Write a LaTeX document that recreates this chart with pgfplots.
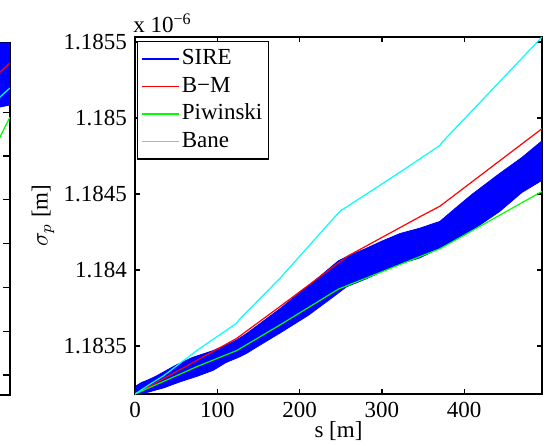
\documentclass[border=0pt]{standalone}
\usepackage{fontspec}
\setmainfont{Liberation Serif}
\usepackage{pgfplots}
\pgfplotsset{compat=1.18}
\definecolor{mblue}{RGB}{0,0,255}
\definecolor{mred}{RGB}{255,0,0}
\definecolor{mgreen}{RGB}{0,255,0}
\definecolor{mcyan}{RGB}{0,255,255}
\begin{document}
\fontsize{11.5}{13}\selectfont
\begin{tikzpicture}
% fragment of the neighbouring subplot on the left
\begin{axis}[at={(5pt,25pt)}, anchor=south east, width=105pt, height=176pt, scale only axis,
  xmin=-200, xmax=10, ymin=50, ymax=402,
  xtick=\empty, ytick={70,113.8,157.6,201.4,245.2,289,332.8,376.6}, yticklabels={},
  tick align=inside, tick pos=both, major tick length=3.5pt,
  axis line style={line width=0.7pt}, every tick/.style={black, line width=0.6pt}]
\addplot[fill=mblue, draw=mblue] coordinates {(-30,402) (10,402) (10,340) (-30,332)};
\addplot[mred, line width=0.6pt] coordinates {(-40,337) (0,373) (10,382)};
\addplot[mcyan, line width=0.6pt] coordinates {(-40,312) (0,348) (10,357)};
\addplot[mgreen, line width=0.6pt] coordinates {(-30,248) (0,308) (10,328)};
\end{axis}
% main axis
\begin{axis}[name=main, at={(67.5pt,25.5pt)}, anchor=south west, width=203.5pt, height=178.5pt, scale only axis,
  xmin=0, xmax=494.5, ymin=18.42, ymax=253.3,
  xtick={0,100,200,300,400},
  ytick={50,100,150,200,250}, yticklabels={1.1835,1.184,1.1845,1.185,1.1855},
  /pgf/number format/assume math mode=true,
  tick label style={font=\fontsize{11.5}{13}\selectfont},
  tick align=inside, tick pos=both, major tick length=2.5pt,
  axis line style={line width=0.7pt}, every tick/.style={black, line width=0.6pt},
  xlabel={s [m]}, ylabel={$\sigma_p$ [m]},
  xlabel style={at={(axis description cs:0.5,-0.104)}, anchor=center},
  ylabel style={at={(axis description cs:-0.226,0.5)}, anchor=center},
  legend image code/.code={\draw[#1] (0pt,0pt) -- (18.5pt,0pt);},
  legend cell align=left,
  legend style={at={(0.005,0.989)}, anchor=north west, draw=black, line width=0.6pt, fill=white,
    inner xsep=2pt, inner ysep=2.5pt, row sep=1.25pt,
    nodes={inner sep=1pt, text height=8pt, text depth=2.5pt},
    font=\fontsize{11.5}{13}\selectfont}]
% SIRE band
\addplot[forget plot, fill=mblue, draw=mblue, line width=0.4pt] coordinates {
 (0,18.4) (2,24) (8,26) (15,27.5) (25,30) (35,33) (50,37.5) (70,42.5) (95,47) (110,50.5) (123.5,54)
 (135,58) (150,64) (176,74.5) (200,85) (225,96) (247,106) (260,109.5) (280,114) (300,119)
 (322,124) (346,127.5) (370.5,132) (390,141) (410,150) (443,163.5) (470,174) (494.5,185)
 (494.5,159) (470,151) (443,138.5) (420,130) (400,123) (370.5,114.5) (346,108) (322,104)
 (300,99) (280,94) (257,89) (240,82) (210,70) (176,58.5) (150,50) (135,45) (127.6,43)
 (110,39) (95,34) (75,30) (55,26.5) (35,22.5) (15,19.5) (5,18.4)};
\addlegendimage{legend image code/.code={\draw[mblue,line width=0.6pt] (0pt,0pt) -- (18.5pt,0pt);}}
\addlegendentry{SIRE}
\addplot[mred, line width=0.6pt] coordinates {
 (0,18.4) (60,36) (123.5,55) (176,75.9) (247,104.6) (259,109.3) (346,135) (370.5,142) (494.5,193)};
\addlegendentry{B−M}
\addplot[mgreen, line width=0.6pt] coordinates {
 (0,18.4) (75,36.4) (123.5,47) (176,63.8) (247,87.4) (346,108.8) (370.5,114) (494.5,151.7)};
\addlegendentry{Piwinski}
\addplot[mcyan, line width=0.6pt] coordinates {
 (0,18.4) (20,25.5) (35,30.5) (75,47) (123.5,65) (126,67) (176,94.5) (247,137.5) (250,139)
 (326,165.8) (370.5,182) (373,184) (421.3,211.5) (494.5,253.3)};
\addlegendentry{Bane}
\end{axis}
\node[anchor=base west, inner sep=0pt] at ([xshift=-1pt,yshift=2pt]main.north west) {x 10\textsuperscript{−6}};
\pgfresetboundingbox
\useasboundingbox (0,0) rectangle (275pt,222.5pt);
\end{tikzpicture}
\end{document}
